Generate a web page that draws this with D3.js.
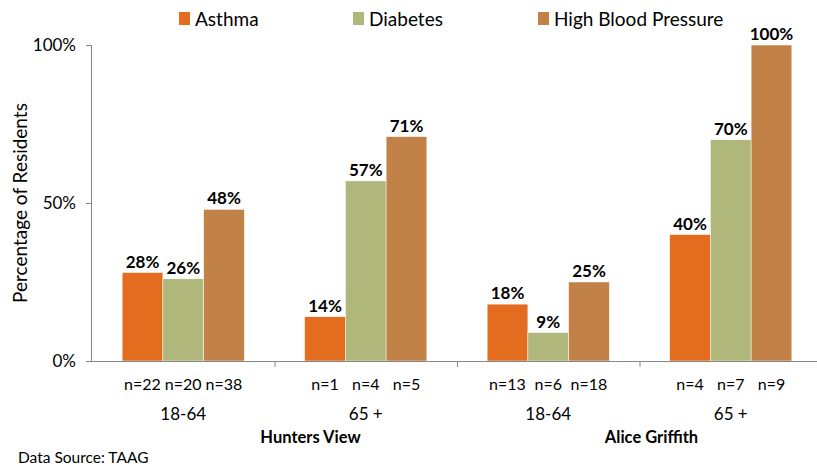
<!DOCTYPE html>
<html><head><meta charset="utf-8">
<script src="https://cdn.jsdelivr.net/npm/d3@7/dist/d3.min.js"></script>
<style>
body{margin:0;background:#fff;}
text{font-family:Lato,"Open Sans",sans-serif;}
</style></head>
<body><svg id="c" width="817" height="466"></svg>
<script>
const series = ["Asthma","Diabetes","High Blood Pressure"];
const colors = ["#E46C1E","#AFB77A","#C28146"];
const groups = ["HV 18-64","HV 65+","AG 18-64","AG 65+"];
const ageLabels = ["18-64","65 +","18-64","65 +"];
const sites = ["Hunters View","Alice Griffith"];
const asthma = [28,14,18,40];
const diabetes = [26,57,9,70];
const hbp = [48,71,25,100];
const nAsthma = ["n=22","n=1","n=13","n=4"];
const nDiabetes = ["n=20","n=4","n=6","n=7"];
const nHbp = ["n=38","n=5","n=18","n=9"];
const yTicks = [0,50,100];

(function(){
const values = [asthma, diabetes, hbp];
const nLabels = [nAsthma, nDiabetes, nHbp];

const svg = d3.select("#c");
const pL = 92, pR = 822, pT = 45, pB = 361;

const x0 = d3.scaleBand().domain(groups).range([pL, pR]).padding(0);
const x1 = d3.scaleBand().domain(series).range([0, x0.bandwidth()]).paddingInner(0).paddingOuter(0.74);
const y = d3.scaleLinear().domain([0,100]).range([pB, pT]);

// y axis
const yAxis = svg.append("g").attr("transform",`translate(${pL},0)`)
  .call(d3.axisLeft(y).tickValues(yTicks).tickSize(6).tickFormat(d=>d+"%"));
yAxis.select(".domain").attr("stroke","#868686").attr("d",`M-0.5,${pT}V${pB}`);
yAxis.selectAll(".tick line").attr("stroke","#868686");
yAxis.selectAll(".tick text").attr("font-size",17).attr("fill","#000").attr("x",-16)
  .style("font-family","Lato,sans-serif");

// bars
groups.forEach((g,gi)=>{
  series.forEach((s,si)=>{
    const v = values[si][gi];
    svg.append("rect")
      .attr("x", x0(g)+x1(s)).attr("width", x1.bandwidth())
      .attr("y", y(v)).attr("height", y(0)-y(v))
      .attr("fill", colors[si]).attr("stroke","#fff").attr("stroke-width",0.5);
    svg.append("text")
      .attr("x", x0(g)+x1(s)+x1.bandwidth()/2).attr("y", y(v)-5)
      .attr("text-anchor","middle").attr("font-size",17).attr("font-weight","bold")
      .attr("fill","#000").text(v+"%");
    svg.append("text")
      .attr("x", x0(g)+x1(s)+x1.bandwidth()/2).attr("y", 390)
      .attr("text-anchor","middle").attr("font-size",16).attr("fill","#000")
      .text(nLabels[si][gi]);
  });
  svg.append("text")
    .attr("x", x0(g)+x0.bandwidth()/2).attr("y", 420)
    .attr("text-anchor","middle").attr("font-size",17).attr("fill","#000")
    .text(ageLabels[gi]);
});

// x axis
svg.append("line").attr("x1",pL-6).attr("x2",817).attr("y1",pB+0.5).attr("y2",pB+0.5)
  .attr("stroke","#868686");
groups.forEach((g,gi)=>{
  if(gi>0) svg.append("line").attr("x1",x0(g)+0.5).attr("x2",x0(g)+0.5)
    .attr("y1",pB).attr("y2",pB+6).attr("stroke","#868686");
});

// site labels
const siteDx = [36, 12];
sites.forEach((s,i)=>{
  const a = x0(groups[i*2]), b = x0(groups[i*2+1]) + x0.bandwidth();
  svg.append("text").attr("x",(a+b)/2 + siteDx[i]).attr("y",443)
    .attr("text-anchor","middle").attr("font-size",16.5).attr("font-weight","bold")
    .attr("fill","#000").text(s);
});

// y title
svg.append("text").attr("transform",`translate(27,${(pT+pB)/2}) rotate(-90)`)
  .attr("text-anchor","middle").attr("font-size",19).attr("fill","#000")
  .text("Percentage of Residents");

// legend
const legX = [179, 353, 538];
series.forEach((s,i)=>{
  svg.append("rect").attr("x",legX[i]).attr("y",12).attr("width",11).attr("height",13).attr("fill",colors[i]);
  svg.append("text").attr("x",legX[i]+16).attr("y",26).attr("font-size",19).attr("fill","#000").text(s);
});

// source
svg.append("text").attr("x",18).attr("y",463).attr("font-size",15.5).attr("fill","#000")
  .text("Data Source: TAAG");
})();
</script></body></html>
